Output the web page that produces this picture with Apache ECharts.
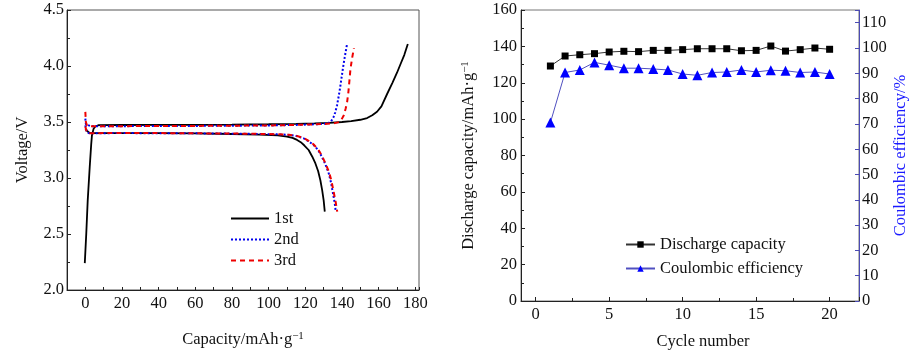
<!DOCTYPE html>
<html>
<head>
<meta charset="utf-8">
<script src="https://cdn.jsdelivr.net/npm/echarts@6/dist/echarts.min.js"></script>
<style>
  html, body { margin: 0; padding: 0; background: #fff; }
  #main { width: 911px; height: 355px; }
</style>
</head>
<body>
<div id="main"></div>
<script>
// left panel: charge / discharge curves, [capacity mAh/g, voltage V]
const charge1 = [[-0.3, 2.24], [0.5, 2.5], [1.3, 2.8], [2.4, 3.1], [3.2, 3.3], [3.6, 3.38], [4.5, 3.44], [5.5, 3.46], [7.3, 3.472],
  [20, 3.473], [40, 3.474], [60, 3.475], [80, 3.477], [100, 3.48], [115, 3.484], [125, 3.488], [133, 3.492], [140, 3.5],
  [145, 3.508], [150, 3.52], [153.7, 3.535], [156.5, 3.56], [159.1, 3.592], [161.5, 3.64], [164.6, 3.75], [167.5, 3.85],
  [170, 3.94], [172, 4.02], [174, 4.1], [175.9, 4.196]]
const discharge1 = [[0, 3.44], [1, 3.42], [2.5, 3.40], [3.5, 3.395], [20, 3.40], [40, 3.40], [60, 3.398], [80, 3.393], [95, 3.388],
  [105, 3.38], [110, 3.37], [113, 3.358], [115.5, 3.34], [117.5, 3.32], [119.5, 3.29], [121.8, 3.25], [123.8, 3.19],
  [125.5, 3.13], [127, 3.06], [128.2, 2.98], [129.2, 2.89], [130, 2.80], [130.6, 2.70]]
const charge2 = [[0, 3.53], [0.3, 3.48], [1, 3.465], [3, 3.462], [20, 3.463], [40, 3.464], [60, 3.465], [80, 3.467], [100, 3.469],
  [115, 3.474], [125, 3.479], [130, 3.484], [132.5, 3.49], [134, 3.505], [135.3, 3.54], [136.3, 3.585], [137.3, 3.65],
  [138.2, 3.73], [139, 3.81], [139.8, 3.9], [140.6, 3.99], [141.5, 4.08], [142.8, 4.2]]
const discharge2 = [[0, 3.47], [0.8, 3.41], [2, 3.40], [20, 3.401], [40, 3.40], [60, 3.399], [80, 3.396], [95, 3.393], [105, 3.39],
  [111, 3.385], [115, 3.375], [119, 3.355], [122, 3.325], [124.5, 3.295], [127, 3.25], [129, 3.19], [131, 3.12],
  [132.8, 3.04], [134, 2.96], [135, 2.87], [136, 2.78], [136.6, 2.70]]
const charge3 = [[0, 3.59], [0.3, 3.5], [1, 3.466], [3, 3.462], [20, 3.463], [40, 3.464], [60, 3.465], [80, 3.467], [100, 3.469],
  [115, 3.474], [125, 3.479], [132, 3.484], [136, 3.49], [138.5, 3.5], [140, 3.53], [141, 3.56], [142, 3.62], [142.8, 3.68],
  [143.5, 3.77], [144, 3.86], [144.6, 3.97], [145.4, 4.06], [146.5, 4.16]]
const discharge3 = [[0, 3.46], [0.8, 3.405], [2, 3.40], [20, 3.402], [40, 3.401], [60, 3.399], [80, 3.397], [95, 3.394], [105, 3.391],
  [111, 3.386], [115, 3.377], [119, 3.358], [122, 3.33], [124.5, 3.30], [127, 3.255], [129, 3.20], [131, 3.13], [133, 3.05],
  [134.3, 2.97], [135.4, 2.88], [136.5, 2.79], [137.4, 2.70]]
const curveNames = ['1st', '2nd', '3rd']

// right panel: cycling
const cycles = [1, 2, 3, 4, 5, 6, 7, 8, 9, 10, 11, 12, 13, 14, 15, 16, 17, 18, 19, 20]
const dischargeCapacity = [129.2, 134.7, 135.4, 136.0, 136.9, 137.3, 137.1, 137.8, 137.8, 138.2,
  138.7, 138.7, 138.7, 137.6, 137.8, 140.2, 137.4, 138.2, 139.1, 138.4]
const coulombicEfficiency = [70.5, 90.3, 91.3, 94.3, 93.2, 92.0, 92.0, 91.7, 91.3, 89.7,
  89.2, 90.3, 90.5, 91.3, 90.5, 91.2, 91.0, 90.3, 90.5, 89.7]

const font = 'Liberation Serif'
const fs = 16.5
const pair = (xs, ys) => xs.map((x, i) => [x, ys[i]])

const supRich = { sup: { fontSize: 11, verticalAlign: 'top', fontFamily: font, color: '#111' } }

function curve (name, data, color, type, width) {
  return {
    name: name,
    type: 'line',
    xAxisIndex: 0,
    yAxisIndex: 0,
    symbol: 'none',
    silent: true,
    data: data,
    lineStyle: { color: color, type: type, width: width, cap: 'butt' },
    itemStyle: { color: color }
  }
}

const chart = echarts.init(document.getElementById('main'))
chart.setOption({
  animation: false,
  textStyle: { fontFamily: font },
  grid: [
    { left: 67, top: 10, width: 352, height: 280, show: true, borderColor: '#555', borderWidth: 1, outerBoundsMode: 'none' },
    { left: 521, top: 10, width: 338, height: 291, show: true, borderColor: '#777', borderWidth: 1, outerBoundsMode: 'none' }
  ],
  legend: [
    {
      data: curveNames,
      orient: 'vertical',
      left: 225,
      top: 205,
      itemWidth: 38,
      itemHeight: 14,
      itemGap: 4,
      selectedMode: false,
      // only the line sample, no marker
      itemStyle: { opacity: 0 },
      textStyle: { fontSize: fs, fontFamily: font, color: '#111' }
    },
    {
      data: ['Discharge capacity', 'Coulombic efficiency'],
      orient: 'vertical',
      left: 620,
      top: 231,
      itemWidth: 29,
      itemHeight: 8,
      itemGap: 7,
      selectedMode: false,
      textStyle: { fontSize: fs, fontFamily: font, color: '#111' }
    }
  ],
  xAxis: [
    {
      type: 'value',
      gridIndex: 0,
      min: -10,
      max: 182,
      interval: 10,
      name: 'Capacity/mAh·g{sup|−1}',
      nameLocation: 'middle',
      nameGap: 41,
      nameTextStyle: { fontSize: fs, fontFamily: font, color: '#111', rich: supRich },
      axisLine: { onZero: false, lineStyle: { color: '#222' } },
      axisTick: { inside: true, length: 3, lineStyle: { color: '#222' } },
      axisLabel: {
        margin: 5,
        fontSize: fs,
        color: '#111',
        formatter: v => (v >= 0 && v <= 180 && v % 20 === 0) ? String(v) : ''
      },
      splitLine: { show: false }
    },
    {
      type: 'value',
      gridIndex: 1,
      min: -1,
      max: 22,
      name: 'Cycle number',
      nameLocation: 'middle',
      nameGap: 32,
      nameTextStyle: { fontSize: fs, fontFamily: font, color: '#111', padding: [0, 0, 0, 26] },
      axisLine: { onZero: false, lineStyle: { color: '#222' } },
      axisTick: { inside: true, length: 4, lineStyle: { color: '#222' } },
      minorTick: { show: true, splitNumber: 2, length: 3, lineStyle: { color: '#222' } },
      axisLabel: {
        margin: 5,
        fontSize: fs,
        color: '#111',
        formatter: v => (v >= 0 && v <= 20 && v % 5 === 0) ? String(v) : ''
      },
      splitLine: { show: false },
      minorSplitLine: { show: false }
    }
  ],
  yAxis: [
    {
      type: 'value',
      gridIndex: 0,
      min: 2,
      max: 4.5,
      interval: 0.5,
      name: 'Voltage/V',
      nameLocation: 'middle',
      nameRotate: 90,
      nameGap: 36,
      nameTextStyle: { fontSize: fs, fontFamily: font, color: '#111' },
      axisLine: { onZero: false, lineStyle: { color: '#222' } },
      axisTick: { inside: true, length: 4, lineStyle: { color: '#222' } },
      minorTick: { show: true, splitNumber: 2, length: 3, lineStyle: { color: '#222' } },
      axisLabel: { margin: 3, fontSize: fs, color: '#111', formatter: v => v.toFixed(1) },
      splitLine: { show: false },
      minorSplitLine: { show: false }
    },
    {
      type: 'value',
      gridIndex: 1,
      position: 'left',
      min: 0,
      max: 160,
      interval: 20,
      name: 'Discharge capacity/mAh·g{sup|−1}',
      nameLocation: 'middle',
      nameRotate: 90,
      nameGap: 44,
      nameTextStyle: { fontSize: fs, fontFamily: font, color: '#111', rich: supRich },
      axisLine: { onZero: false, lineStyle: { color: '#222' } },
      axisTick: { inside: true, length: 4, lineStyle: { color: '#222' } },
      minorTick: { show: true, splitNumber: 2, length: 3, lineStyle: { color: '#222' } },
      axisLabel: { margin: 4, fontSize: fs, color: '#111' },
      splitLine: { show: false },
      minorSplitLine: { show: false }
    },
    {
      type: 'value',
      gridIndex: 1,
      position: 'right',
      min: 0,
      max: 115,
      interval: 10,
      name: 'Coulombic efficiency/%',
      nameLocation: 'middle',
      nameRotate: 90,
      nameGap: 33,
      nameTextStyle: { fontSize: fs, fontFamily: font, color: '#1a1aff' },
      axisLine: { onZero: false, lineStyle: { color: '#4b4bb4' } },
      axisTick: { inside: true, length: 4, lineStyle: { color: '#4b4bb4' } },
      axisLabel: { margin: 3, fontSize: fs, color: '#111', formatter: v => v > 110 ? '' : String(v) },
      splitLine: { show: false }
    }
  ],
  series: [
    curve('1st', charge1, '#000', 'solid', 1.8),
    curve('1st', discharge1, '#000', 'solid', 1.8),
    curve('2nd', charge2, '#0000ee', [2, 2], 2),
    curve('2nd', discharge2, '#0000ee', [2, 2], 2),
    curve('3rd', charge3, '#ee0000', [5, 4], 2),
    curve('3rd', discharge3, '#ee0000', [5, 4], 2),
    {
      name: 'Discharge capacity',
      type: 'line',
      xAxisIndex: 1,
      yAxisIndex: 1,
      data: pair(cycles, dischargeCapacity),
      symbol: 'rect',
      symbolSize: 7,
      itemStyle: { color: '#000' },
      lineStyle: { color: '#333', width: 1 }
    },
    {
      name: 'Coulombic efficiency',
      type: 'line',
      xAxisIndex: 1,
      yAxisIndex: 2,
      data: pair(cycles, coulombicEfficiency),
      symbol: 'triangle',
      symbolSize: 10,
      itemStyle: { color: '#0000ff' },
      lineStyle: { color: '#5050c0', width: 1 }
    }
  ]
})
</script>
</body>
</html>
